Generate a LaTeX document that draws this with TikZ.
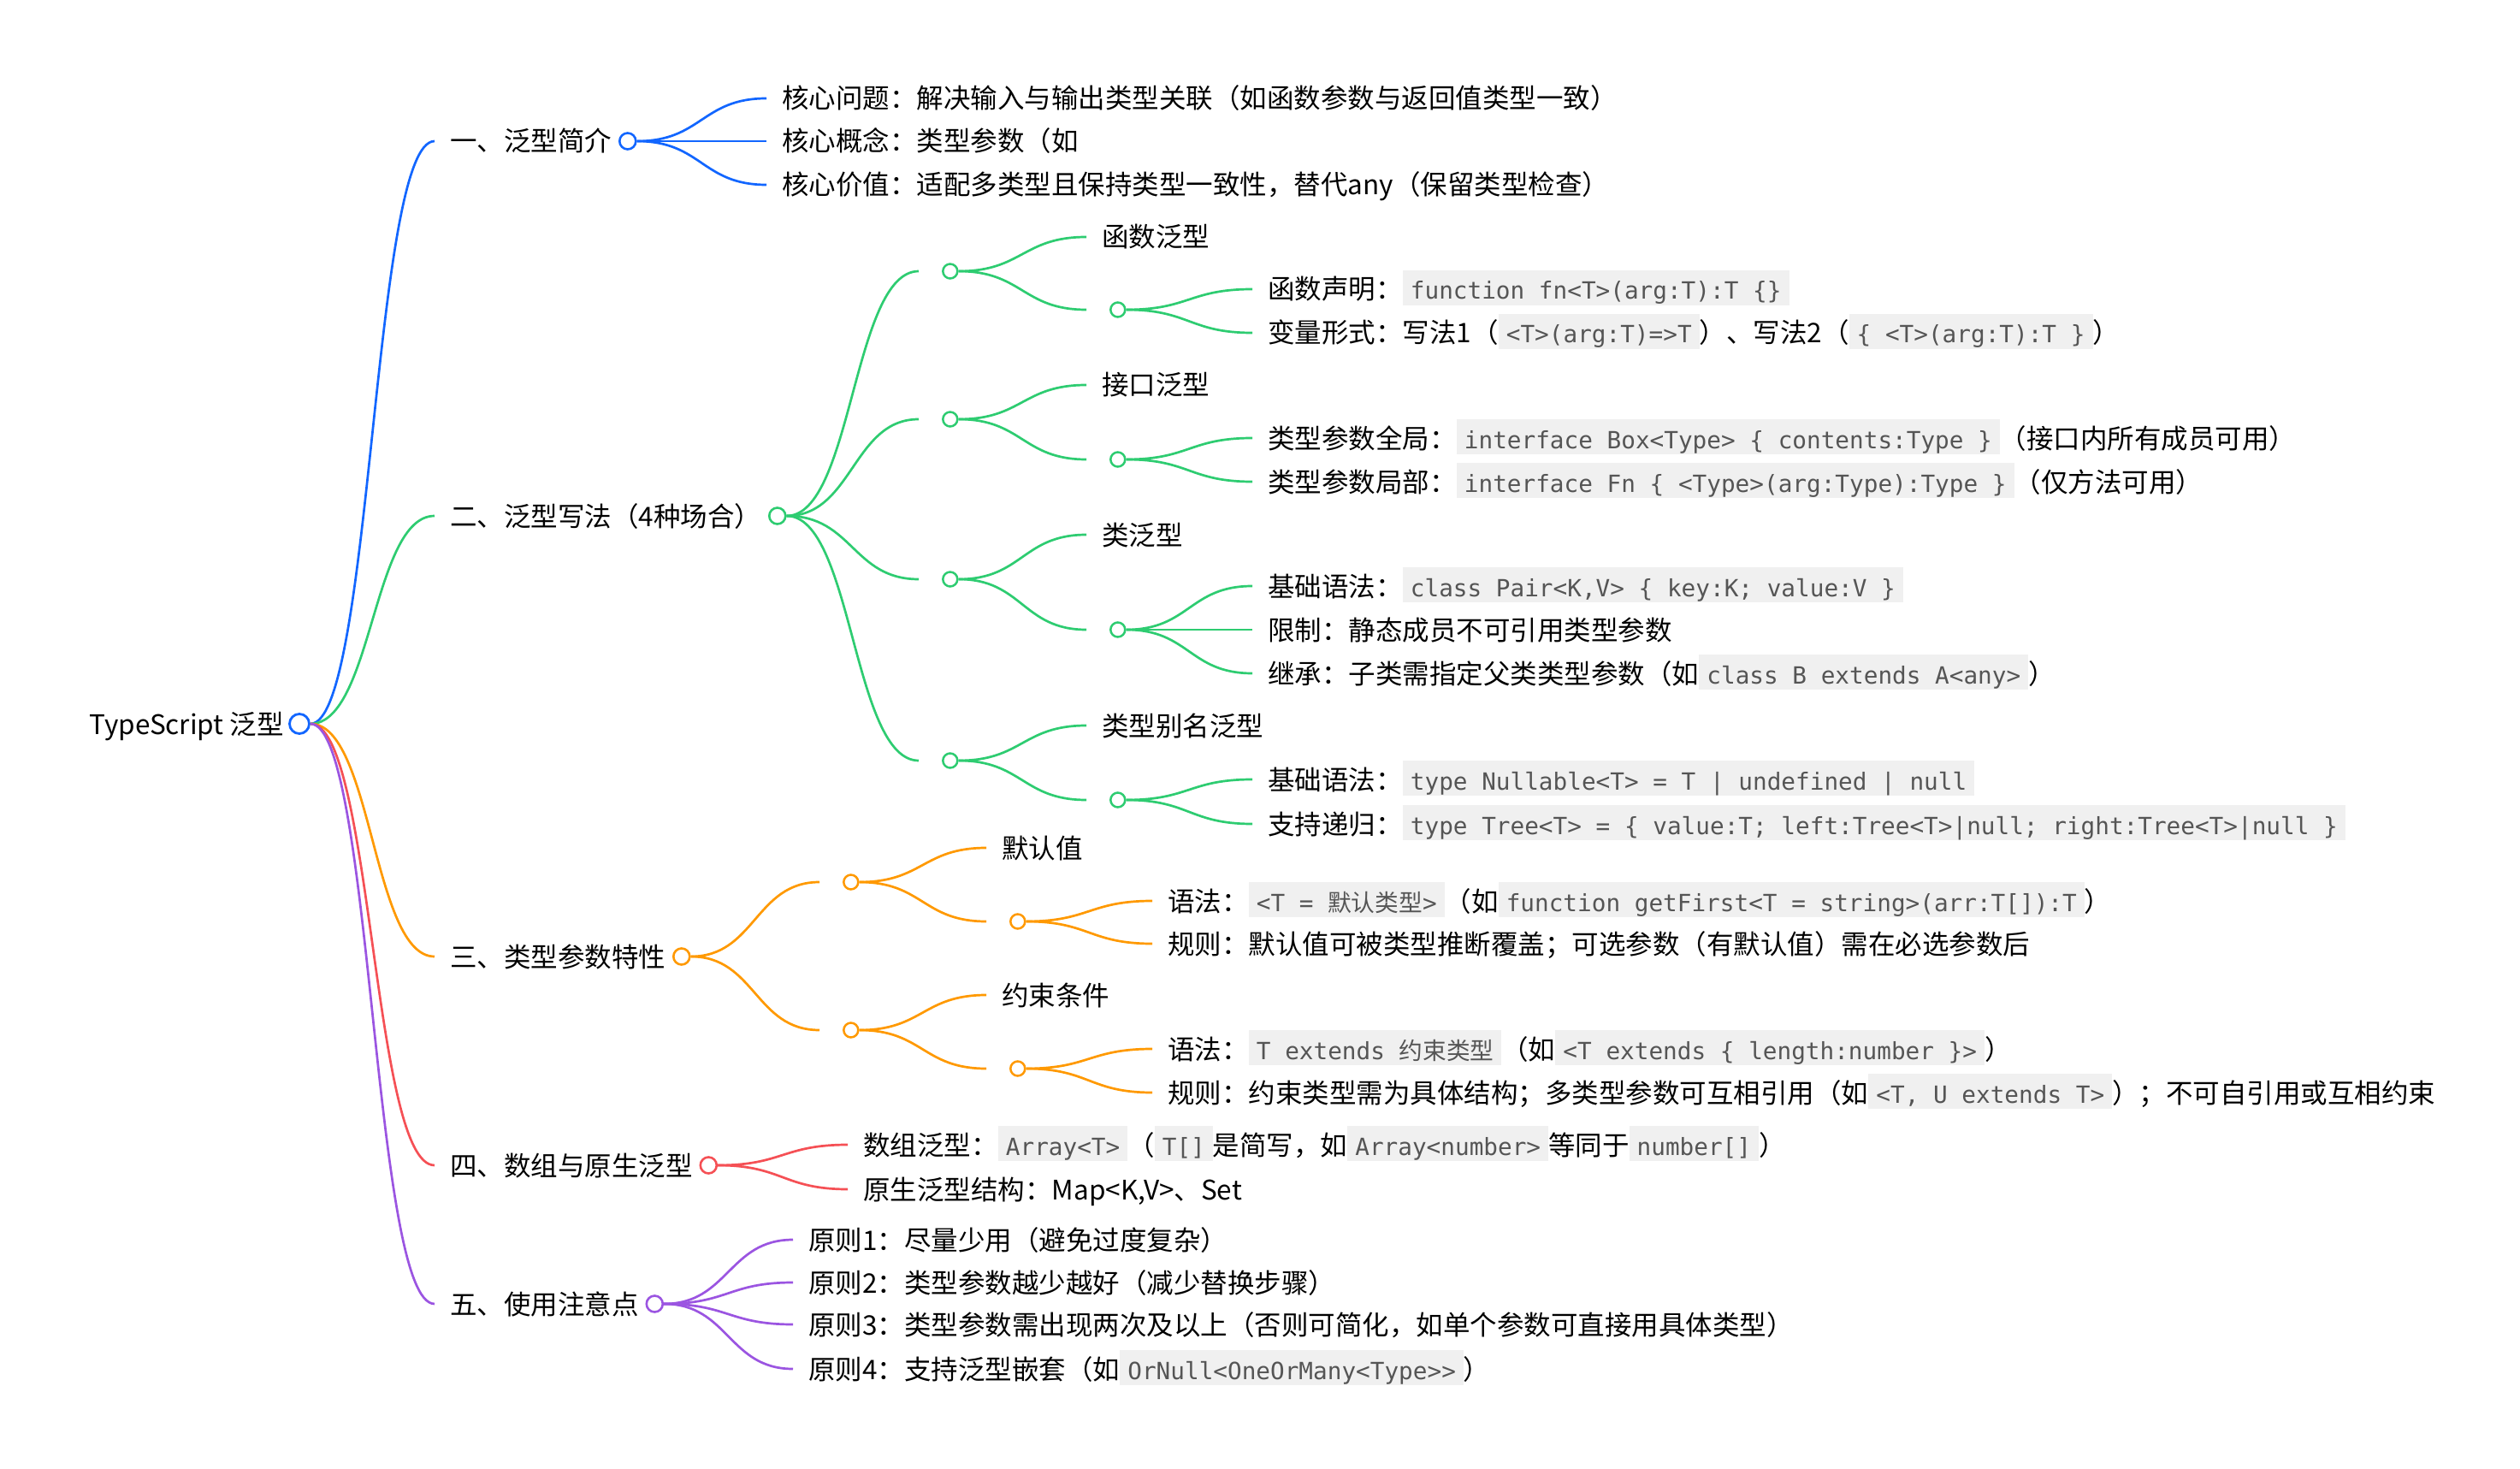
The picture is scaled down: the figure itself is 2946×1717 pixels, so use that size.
\documentclass[tikz,border=0pt]{standalone}
\usepackage{fontspec}
\setmainfont{Noto Sans CJK SC}
\setmonofont{DejaVu Sans Mono}
\usepackage{xcolor}
\usepackage{tikz}
\usetikzlibrary{calc}
\definecolor{BlueBranch}{RGB}{18,102,255}
\definecolor{GreenBranch}{RGB}{46,204,113}
\definecolor{OrangeBranch}{RGB}{255,153,0}
\definecolor{RedBranch}{RGB}{245,80,85}
\definecolor{PurpleBranch}{RGB}{155,85,225}
\definecolor{CodeGray}{RGB}{240,240,240}
\definecolor{CodeInk}{RGB}{85,85,85}
\newcommand{\snippet}[1]{{\setlength{\fboxsep}{0pt}\colorbox{CodeGray}{\hspace{4.5pt}\rule[-3.5pt]{0pt}{20.5pt}\fontsize{13.85pt}{16pt}\ttfamily\color{CodeInk}#1\hspace{4.5pt}}}}
\newcommand{\branchto}[3]{%
  \draw[link,#1] let \p1=(#2.east), \p2=(#3.west) in
    (\p1) .. controls ({(\x1+\x2)/2},\y1) and ({(\x1+\x2)/2},\y2) .. (\p2);}
\tikzset{
  topic/.style={anchor=west,inner xsep=9pt,inner ysep=3pt,text height=12pt,text depth=0pt,
    font=\fontsize{15.75pt}{19pt}\selectfont},
  knob/.style={circle,draw=#1,fill=white,inner sep=0pt,minimum size=8.5pt,line width=1.25pt},
  bigknob/.style={knob=#1,minimum size=9.5pt,line width=1.3pt},
  link/.style={line width=1.35pt}
}
\begin{document}
\begin{tikzpicture}[x=0.5pt,y=-0.5pt]
  \useasboundingbox (0,0) rectangle (2946,1717);
  \node[topic,anchor=east] (root) at (350,846) {TypeScript 泛型};
  \node[knob=BlueBranch,minimum size=11.5pt,line width=1.4pt] (root-o) at (root.east) {};

  \node[topic] (intro) at (508,165) {一、泛型简介};
  \node[topic] (forms) at (508,603) {二、泛型写法（4种场合）};
  \node[topic] (params) at (508,1118) {三、类型参数特性};
  \node[topic] (arrays) at (508,1362) {四、数组与原生泛型};
  \node[topic] (usage) at (508,1524) {五、使用注意点};
  \node[bigknob=BlueBranch] (intro-o) at (intro.east) {};
  \node[bigknob=GreenBranch] (forms-o) at (forms.east) {};
  \node[bigknob=OrangeBranch] (params-o) at (params.east) {};
  \node[bigknob=RedBranch] (arrays-o) at (arrays.east) {};
  \node[bigknob=PurpleBranch] (usage-o) at (usage.east) {};

  \node[topic] (problem) at (896,115) {核心问题：解决输入与输出类型关联（如函数参数与返回值类型一致）};
  \node[topic] (concept) at (896,165) {核心概念：类型参数（如};
  \node[topic] (value) at (896,216) {核心价值：适配多类型且保持类型一致性，替代any（保留类型检查）};

  \node[topic] (fn) at (1074,317) {};
  \node[topic] (iface) at (1074,490) {};
  \node[topic] (cls) at (1074,677) {};
  \node[topic] (alias) at (1074,889) {};
  \node[knob=GreenBranch] (fn-o) at (fn.east) {};
  \node[knob=GreenBranch] (iface-o) at (iface.east) {};
  \node[knob=GreenBranch] (cls-o) at (cls.east) {};
  \node[knob=GreenBranch] (alias-o) at (alias.east) {};

  \node[topic] (fn-t) at (1270,277) {函数泛型};
  \node[topic] (fn-s) at (1270,362) {};
  \node[knob=GreenBranch] (fn-s-o) at (fn-s.east) {};
  \node[topic] (fn-a) at (1464,338) {函数声明：\snippet{function fn<T>(arg:T):T \{\}}};
  \node[topic] (fn-b) at (1464,389) {变量形式：写法1（\snippet{<T>(arg:T)=>T}）、写法2（\snippet{\{ <T>(arg:T):T \}}）};

  \node[topic] (iface-t) at (1270,450) {接口泛型};
  \node[topic] (iface-s) at (1270,537) {};
  \node[knob=GreenBranch] (iface-s-o) at (iface-s.east) {};
  \node[topic] (iface-a) at (1464,512) {类型参数全局：\snippet{interface Box<Type> \{ contents:Type \}}（接口内所有成员可用）};
  \node[topic] (iface-b) at (1464,563) {类型参数局部：\snippet{interface Fn \{ <Type>(arg:Type):Type \}}（仅方法可用）};

  \node[topic] (cls-t) at (1270,625) {类泛型};
  \node[topic] (cls-s) at (1270,736) {};
  \node[knob=GreenBranch] (cls-s-o) at (cls-s.east) {};
  \node[topic] (cls-a) at (1464,685) {基础语法：\snippet{class Pair<K,V> \{ key:K; value:V \}}};
  \node[topic] (cls-b) at (1464,736) {限制：静态成员不可引用类型参数};
  \node[topic] (cls-c) at (1464,787) {继承：子类需指定父类类型参数（如\snippet{class B extends A<any>}）};

  \node[topic] (alias-t) at (1270,848) {类型别名泛型};
  \node[topic] (alias-s) at (1270,935) {};
  \node[knob=GreenBranch] (alias-s-o) at (alias-s.east) {};
  \node[topic] (alias-a) at (1464,911) {基础语法：\snippet{type Nullable<T> = T | undefined | null}};
  \node[topic] (alias-b) at (1464,963) {支持递归：\snippet{type Tree<T> = \{ value:T; left:Tree<T>|null; right:Tree<T>|null \}}};

  \node[topic] (dflt) at (958,1031) {};
  \node[topic] (bound) at (958,1204) {};
  \node[knob=OrangeBranch] (dflt-o) at (dflt.east) {};
  \node[knob=OrangeBranch] (bound-o) at (bound.east) {};
  \node[topic] (dflt-t) at (1153,991) {默认值};
  \node[topic] (dflt-s) at (1153,1077) {};
  \node[knob=OrangeBranch] (dflt-s-o) at (dflt-s.east) {};
  \node[topic] (dflt-a) at (1347,1053) {语法：\snippet{<T = {\rmfamily 默认类型}>}（如\snippet{function getFirst<T = string>(arr:T[]):T}）};
  \node[topic] (dflt-b) at (1347,1103) {规则：默认值可被类型推断覆盖；可选参数（有默认值）需在必选参数后};
  \node[topic] (bound-t) at (1153,1163) {约束条件};
  \node[topic] (bound-s) at (1153,1249) {};
  \node[knob=OrangeBranch] (bound-s-o) at (bound-s.east) {};
  \node[topic] (bound-a) at (1347,1226) {语法：\snippet{T extends {\rmfamily 约束类型}}（如\snippet{<T extends \{ length:number \}>}）};
  \node[topic] (bound-b) at (1347,1277) {规则：约束类型需为具体结构；多类型参数可互相引用（如\snippet{<T, U extends T>}）；不可自引用或互相约束};

  \node[topic] (arr-a) at (991,1338) {数组泛型：\snippet{Array<T>}（\snippet{T[]}是简写，如\snippet{Array<number>}等同于\snippet{number[]}）};
  \node[topic] (arr-b) at (991,1390) {原生泛型结构：Map<K,V>、Set};

  \node[topic] (rule1) at (927,1449) {原则1：尽量少用（避免过度复杂）};
  \node[topic] (rule2) at (927,1499) {原则2：类型参数越少越好（减少替换步骤）};
  \node[topic] (rule3) at (927,1548) {原则3：类型参数需出现两次及以上（否则可简化，如单个参数可直接用具体类型）};
  \node[topic] (rule4) at (927,1600) {原则4：支持泛型嵌套（如\snippet{OrNull<OneOrMany<Type>{}>}）};

  \branchto{BlueBranch}{root-o}{intro}
  \branchto{GreenBranch}{root-o}{forms}
  \branchto{OrangeBranch}{root-o}{params}
  \branchto{RedBranch}{root-o}{arrays}
  \branchto{PurpleBranch}{root-o}{usage}

  \branchto{BlueBranch}{intro-o}{problem}
  \branchto{BlueBranch}{intro-o}{concept}
  \branchto{BlueBranch}{intro-o}{value}

  \branchto{GreenBranch}{forms-o}{fn}
  \branchto{GreenBranch}{forms-o}{iface}
  \branchto{GreenBranch}{forms-o}{cls}
  \branchto{GreenBranch}{forms-o}{alias}
  \branchto{GreenBranch}{fn-o}{fn-t}
  \branchto{GreenBranch}{fn-o}{fn-s}
  \branchto{GreenBranch}{fn-s-o}{fn-a}
  \branchto{GreenBranch}{fn-s-o}{fn-b}
  \branchto{GreenBranch}{iface-o}{iface-t}
  \branchto{GreenBranch}{iface-o}{iface-s}
  \branchto{GreenBranch}{iface-s-o}{iface-a}
  \branchto{GreenBranch}{iface-s-o}{iface-b}
  \branchto{GreenBranch}{cls-o}{cls-t}
  \branchto{GreenBranch}{cls-o}{cls-s}
  \branchto{GreenBranch}{cls-s-o}{cls-a}
  \branchto{GreenBranch}{cls-s-o}{cls-b}
  \branchto{GreenBranch}{cls-s-o}{cls-c}
  \branchto{GreenBranch}{alias-o}{alias-t}
  \branchto{GreenBranch}{alias-o}{alias-s}
  \branchto{GreenBranch}{alias-s-o}{alias-a}
  \branchto{GreenBranch}{alias-s-o}{alias-b}

  \branchto{OrangeBranch}{params-o}{dflt}
  \branchto{OrangeBranch}{params-o}{bound}
  \branchto{OrangeBranch}{dflt-o}{dflt-t}
  \branchto{OrangeBranch}{dflt-o}{dflt-s}
  \branchto{OrangeBranch}{dflt-s-o}{dflt-a}
  \branchto{OrangeBranch}{dflt-s-o}{dflt-b}
  \branchto{OrangeBranch}{bound-o}{bound-t}
  \branchto{OrangeBranch}{bound-o}{bound-s}
  \branchto{OrangeBranch}{bound-s-o}{bound-a}
  \branchto{OrangeBranch}{bound-s-o}{bound-b}

  \branchto{RedBranch}{arrays-o}{arr-a}
  \branchto{RedBranch}{arrays-o}{arr-b}

  \branchto{PurpleBranch}{usage-o}{rule1}
  \branchto{PurpleBranch}{usage-o}{rule2}
  \branchto{PurpleBranch}{usage-o}{rule3}
  \branchto{PurpleBranch}{usage-o}{rule4}
\end{tikzpicture}
\end{document}
